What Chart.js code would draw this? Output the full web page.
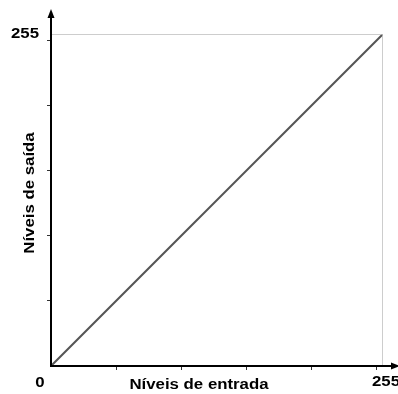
<!DOCTYPE html>
<html>
<head>
<meta charset="utf-8">
<script src="https://cdn.jsdelivr.net/npm/chart.js@4"></script>
<style>
  html, body { margin: 0; padding: 0; background: #fff; }
  #wrap { width: 398px; height: 394px; position: relative; }
</style>
</head>
<body>
<div id="wrap"><canvas id="levelsChart"></canvas></div>
<script>
// data
const inputLevels = [0, 255];
const outputLevels = [0, 255];
const frameX = [0, 255, 255];
const frameY = [255, 255, 0];
const axisMin = 0;
const axisMax = 255;
const tickValues = [50, 100, 150, 200, 250];
const xTitle = 'Níveis de entrada';
const yTitle = 'Níveis de saída';

const FONT = '"Liberation Sans", Arial, sans-serif';
const STRETCH = 1.2; // the original text is a bit wide

function wideText(ctx, text, x, y, rot) {
  ctx.save();
  ctx.translate(x, y);
  if (rot) ctx.rotate(rot);
  ctx.scale(STRETCH, 1);
  ctx.fillText(text, 0, 0);
  ctx.restore();
}

// axes with arrows + end labels, drawn after the chart
const axesPlugin = {
  id: 'axesPlugin',
  afterDraw(chart) {
    const { ctx, scales } = chart;
    const x0 = scales.x.getPixelForValue(axisMin);
    const y0 = scales.y.getPixelForValue(axisMin);
    const xEnd = scales.x.getPixelForValue(axisMax);
    const yEnd = scales.y.getPixelForValue(axisMax);
    ctx.save();
    ctx.strokeStyle = '#000';
    ctx.fillStyle = '#000';
    ctx.lineWidth = 2;
    ctx.beginPath();
    ctx.moveTo(x0, 14);
    ctx.lineTo(x0, y0);
    ctx.lineTo(chart.width - 4, y0);
    ctx.stroke();
    // arrow heads
    ctx.beginPath();
    ctx.moveTo(x0, 9);
    ctx.lineTo(x0 - 3.5, 18);
    ctx.lineTo(x0 + 3.5, 18);
    ctx.closePath();
    ctx.fill();
    ctx.beginPath();
    ctx.moveTo(chart.width + 2, y0);
    ctx.lineTo(chart.width - 7, y0 - 3.5);
    ctx.lineTo(chart.width - 7, y0 + 3.5);
    ctx.closePath();
    ctx.fill();

    ctx.font = 'bold 14px ' + FONT;
    ctx.textBaseline = 'middle';
    ctx.textAlign = 'center';
    wideText(ctx, String(axisMax), 25, yEnd);
    wideText(ctx, String(axisMin), 40, y0 + 17);
    wideText(ctx, String(axisMax), xEnd + 3, y0 + 16);

    wideText(ctx, xTitle, 199, y0 + 19);
    wideText(ctx, yTitle, 30, 193, -Math.PI / 2);
    ctx.restore();
  }
};

const tickOpts = { display: false };

new Chart(document.getElementById('levelsChart'), {
  type: 'scatter',
  data: {
    datasets: [
      {
        data: frameX.map((x, i) => ({ x, y: frameY[i] })),
        showLine: true,
        borderColor: '#bdbdbd',
        borderWidth: 1.5,
        pointRadius: 0,
        fill: false,
        tension: 0
      },
      {
        data: inputLevels.map((x, i) => ({ x, y: outputLevels[i] })),
        showLine: true,
        borderColor: '#555555',
        borderWidth: 2,
        pointRadius: 0,
        fill: false,
        tension: 0
      }
    ]
  },
  options: {
    responsive: true,
    maintainAspectRatio: false,
    animation: false,
    layout: { padding: { left: 47, right: 15, top: 34, bottom: 24 } },
    plugins: { legend: { display: false }, tooltip: { enabled: false } },
    scales: {
      x: {
        type: 'linear',
        min: axisMin,
        max: axisMax,
        afterBuildTicks: (s) => { s.ticks = tickValues.map(v => ({ value: v })); },
        afterFit: (s) => { s.height = 4; },
        ticks: tickOpts,
        border: { display: false },
        grid: { drawOnChartArea: false, drawTicks: true, tickLength: 4, color: '#333', lineWidth: 1 }
      },
      y: {
        type: 'linear',
        min: axisMin,
        max: axisMax,
        afterBuildTicks: (s) => { s.ticks = tickValues.map(v => ({ value: v })); },
        afterFit: (s) => { s.width = 4; },
        ticks: tickOpts,
        border: { display: false },
        grid: { drawOnChartArea: false, drawTicks: true, tickLength: 4, color: '#333', lineWidth: 1 }
      }
    }
  },
  plugins: [axesPlugin]
});
</script>
</body>
</html>
